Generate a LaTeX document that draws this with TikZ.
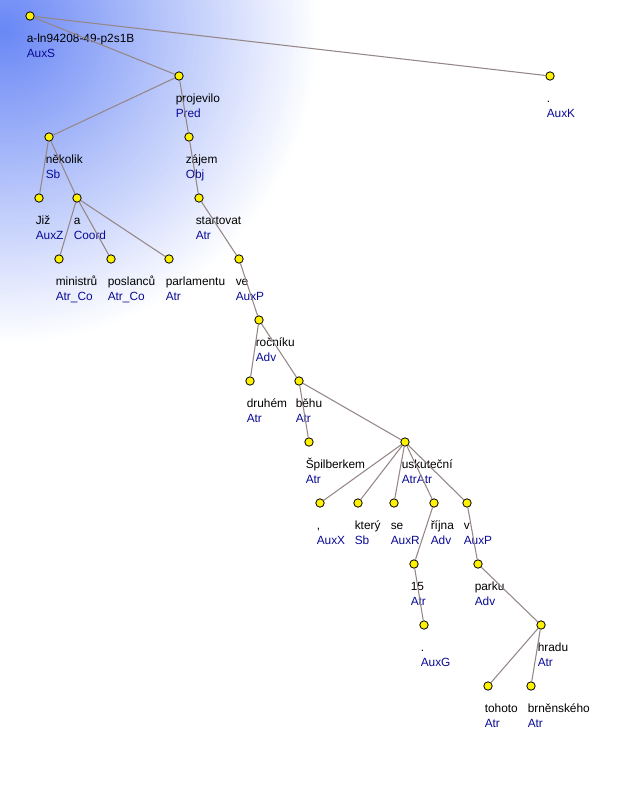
\documentclass[tikz,border=0pt]{standalone}
\usepackage{fontspec}
\setmainfont{Liberation Sans}
\definecolor{bgblue}{RGB}{105,135,245}
\definecolor{edgecol}{RGB}{150,135,135}
\definecolor{funcol}{RGB}{10,10,150}
\newcommand\tnd[5]{%
  \node[tnode] (#1) at (#2,#3) {};
  \node[wordlab] (#1w) at (#2-3.5,#3+26.5) {#4};
  \node[funclab] (#1f) at (#2-3.5,#3+41.5) {#5};}
\begin{document}
\begin{tikzpicture}[x=0.75pt,y=-0.75pt,
  tnode/.style={circle,fill=yellow,draw=black,line width=0.6pt,inner sep=0pt,minimum size=6.3pt},
  wordlab/.style={anchor=base west,inner sep=0pt,font=\fontsize{8.9}{10}\selectfont},
  funclab/.style={wordlab,text=funcol},
  edge/.style={draw=edgecol,line width=0.8pt}]
\useasboundingbox (0,0) rectangle (618,795);
\begin{scope}
  \clip (0,0) rectangle (618,795);
  \foreach \i in {0,...,99}{
    \pgfmathsetmacro\r{315*(1-\i/100)}
    \pgfmathtruncatemacro\p{\i}
    \fill[bgblue!\p!white] (5,30) circle (\r);
  }
\end{scope}
\tnd{r}{30}{16}{a-ln94208-49-p2s1B}{AuxS}
\tnd{pro}{179}{76}{projevilo}{Pred}
\tnd{auxk}{550}{76}{.}{AuxK}
\tnd{nek}{49}{137}{několik}{Sb}
\tnd{zaj}{189}{137}{zájem}{Obj}
\tnd{jiz}{39}{198}{Již}{AuxZ}
\tnd{a}{77}{198}{a}{Coord}
\tnd{sta}{199}{198}{startovat}{Atr}
\tnd{min}{59}{259}{ministrů}{Atr\_Co}
\tnd{pos}{111}{259}{poslanců}{Atr\_Co}
\tnd{par}{169}{259}{parlamentu}{Atr}
\tnd{ve}{239}{259}{ve}{AuxP}
\tnd{roc}{259}{320}{ročníku}{Adv}
\tnd{dru}{250}{381}{druhém}{Atr}
\tnd{beh}{299}{381}{běhu}{Atr}
\tnd{spi}{309}{442}{Špilberkem}{Atr}
\tnd{usk}{405}{442}{uskuteční}{AtrAtr}
\tnd{com}{320}{503}{,}{AuxX}
\tnd{kte}{358}{503}{který}{Sb}
\tnd{se}{394}{503}{se}{AuxR}
\tnd{rij}{434}{503}{října}{Adv}
\tnd{v}{467}{503}{v}{AuxP}
\tnd{pat}{414}{564}{15}{Atr}
\tnd{prk}{478}{564}{parku}{Adv}
\tnd{dot}{424}{625}{.}{AuxG}
\tnd{hra}{541}{625}{hradu}{Atr}
\tnd{toh}{488}{686}{tohoto}{Atr}
\tnd{brn}{531}{686}{brněnského}{Atr}
\path[edge] (r) -- (pro) (r) -- (auxk)
  (pro) -- (nek) (pro) -- (zaj)
  (nek) -- (jiz) (nek) -- (a)
  (a) -- (min) (a) -- (pos) (a) -- (par)
  (zaj) -- (sta) (sta) -- (ve) (ve) -- (roc)
  (roc) -- (dru) (roc) -- (beh)
  (beh) -- (spi) (beh) -- (usk)
  (usk) -- (com) (usk) -- (kte) (usk) -- (se) (usk) -- (rij) (usk) -- (v)
  (rij) -- (pat) (pat) -- (dot)
  (v) -- (prk) (prk) -- (hra)
  (hra) -- (toh) (hra) -- (brn);
\end{tikzpicture}
\end{document}
